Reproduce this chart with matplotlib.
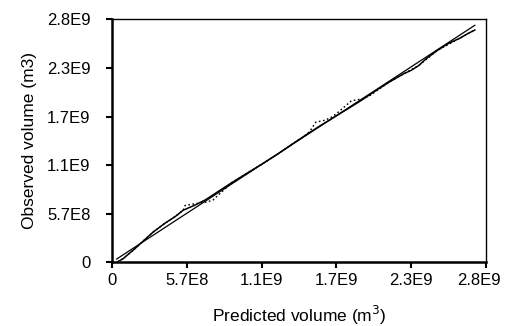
import matplotlib
matplotlib.use("Agg")
import matplotlib.pyplot as plt
import matplotlib.transforms as mtransforms
import numpy as np

plt.rcParams['font.family'] = ['Liberation Sans', 'DejaVu Sans']

# axis scale (m3), ticks every fifth of the range
vmax = 2.84e9
tick_vals = [0, 0.568e9, 1.136e9, 1.704e9, 2.272e9, 2.84e9]
tick_labels = ['0', '5.7E8', '1.1E9', '1.7E9', '2.3E9', '2.8E9']

# 1:1 reference line (predicted = observed)
ref_pred = [0.035e9, 2.755e9]
ref_obs = [0.040e9, 2.770e9]

# observed vs predicted, solid series (units of 1E9 m3)
solid_pred = [0.045, 0.085, 0.115, 0.170, 0.240, 0.312, 0.398, 0.483, 0.540,
              0.625, 0.710, 0.795, 0.909, 1.022, 1.136, 1.250, 1.363, 1.477,
              1.562, 1.647, 1.760, 1.874, 1.988, 2.102, 2.215, 2.272, 2.329,
              2.386, 2.471, 2.556, 2.641, 2.698, 2.755]
solid_obs = [0.010, 0.045, 0.085, 0.156, 0.255, 0.355, 0.454, 0.540, 0.610,
             0.667, 0.732, 0.818, 0.932, 1.039, 1.147, 1.258, 1.377, 1.494,
             1.579, 1.659, 1.766, 1.874, 1.991, 2.104, 2.204, 2.244, 2.300,
             2.380, 2.477, 2.559, 2.619, 2.670, 2.715]

# dotted series, departs from the solid one in two stretches
dot_pred = [0.045, 0.085, 0.115, 0.170, 0.240, 0.312, 0.398, 0.483, 0.540,
            0.554, 0.625, 0.718, 0.767, 0.795, 0.909, 1.022, 1.136, 1.250,
            1.363, 1.477, 1.505, 1.548, 1.619, 1.676, 1.733, 1.818, 1.903,
            1.960, 2.102, 2.215, 2.329, 2.471, 2.641, 2.755]
dot_obs = [0.010, 0.045, 0.085, 0.156, 0.255, 0.355, 0.454, 0.540, 0.610,
           0.665, 0.685, 0.705, 0.730, 0.770, 0.932, 1.039, 1.147, 1.258,
           1.377, 1.494, 1.540, 1.639, 1.662, 1.705, 1.775, 1.889, 1.911,
           1.951, 2.104, 2.204, 2.300, 2.477, 2.619, 2.715]

fig = plt.figure(figsize=(5.05, 3.26), dpi=100)
ax = fig.add_axes([0.2218, 0.1948, 0.7406, 0.746])

ax.plot(ref_pred, ref_obs, color='black', lw=0.9)
ax.plot(np.array(solid_pred) * 1e9, np.array(solid_obs) * 1e9,
        color='black', lw=1.1)
ax.plot(np.array(dot_pred) * 1e9, np.array(dot_obs) * 1e9,
        color='black', lw=1.0, ls=(0, (1.2, 1.8)))

ax.set_xlim(0, vmax)
ax.set_ylim(0, vmax)
ax.set_xticks(tick_vals)
ax.set_xticklabels(tick_labels)
ax.set_yticks(tick_vals)
ax.set_yticklabels(tick_labels)
ax.tick_params(direction='out', length=4.5, width=1.5, labelsize=12,
               colors='black')
ax.tick_params(axis='y', pad=11)
ax.tick_params(axis='x', pad=3)

# keep the last x tick label inside the picture
last = ax.get_xticklabels()[-1]
last.set_transform(last.get_transform() +
                   mtransforms.ScaledTranslation(-5 / 72, 0, fig.dpi_scale_trans))

for s in ['left', 'bottom']:
    ax.spines[s].set_linewidth(1.8)
for s in ['top', 'right']:
    ax.spines[s].set_linewidth(1.0)

ax.set_xlabel('Predicted volume (m$^3$)', fontsize=12.5)
ax.set_ylabel('Observed volume (m3)', fontsize=12.5)
ax.xaxis.set_label_coords(0.5, -0.172)
ax.yaxis.set_label_coords(-0.2, 0.5)

fig.savefig('out.png', dpi=100)
